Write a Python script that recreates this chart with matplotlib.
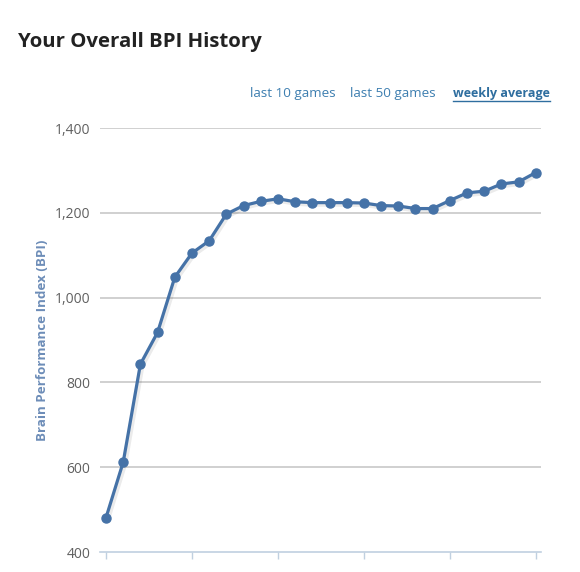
import matplotlib
matplotlib.use("Agg")
import matplotlib.pyplot as plt
import matplotlib.patheffects as pe

# Data
weeks = list(range(26))
bpi = [481, 612, 843, 918, 1048, 1105, 1134, 1197, 1217, 1227, 1233, 1226, 1224,
       1224, 1224, 1223, 1217, 1216, 1210, 1210, 1229, 1247, 1251, 1268, 1273, 1295]
y_ticks = [400, 600, 800, 1000, 1200, 1400]
y_tick_labels = ["400", "600", "800", "1,000", "1,200", "1,400"]
x_ticks = [0, 5, 10, 15, 20, 25]
title = "Your Overall BPI History"
y_label = "Brain Performance Index (BPI)"
links = ["last 10 games", "last 50 games", "weekly average"]

plt.rcParams['font.family'] = ['Open Sans', 'DejaVu Sans']

W, H = 580, 572
fig = plt.figure(figsize=(W / 100, H / 100), dpi=100)
left, right, top, bottom = 100, 541, 128, 552
ax = fig.add_axes([left / W, (H - bottom) / H, (right - left) / W, (bottom - top) / H])

line_color = "#4572A7"
ax.plot(weeks, bpi, color=line_color, lw=2.3, zorder=3,
        path_effects=[pe.SimpleLineShadow(offset=(1, -1), shadow_color="#000000", alpha=0.08, linewidth=4),
                      pe.Normal()])
ax.plot(weeks, bpi, linestyle="none", marker="o", ms=6.5, color=line_color, zorder=4)

ax.set_xlim(-0.35, 25.3)
ax.set_ylim(400, 1400)
ax.set_yticks(y_ticks)
ax.set_yticklabels(y_tick_labels)
ax.set_xticks(x_ticks)
ax.set_xticklabels([])

for v in y_ticks[1:]:
    ax.axhline(v, color="#C8C8C8", lw=1.2, zorder=1)

for s in ["top", "right", "left"]:
    ax.spines[s].set_visible(False)
ax.spines["bottom"].set_color("#C0D0E0")
ax.spines["bottom"].set_linewidth(1.2)

ax.tick_params(axis="y", length=0, pad=7, labelsize=10, labelcolor="#606060")
ax.tick_params(axis="x", length=5, width=1, color="#C0D0E0", direction="out")

ax.set_ylabel(y_label, color="#6D8DB8", fontsize=9.6, fontweight="bold", labelpad=4)

fig.text(18 / W, 1 - 42 / H, title, fontsize=14.7, fontweight="bold", color="#222222",
         ha="left", va="center")

link_color = "#3D7EB0"
fs_link = 9.7
fig.text(250 / W, 1 - 94 / H, links[0], fontsize=fs_link, color=link_color, ha="left", va="center")
fig.text(350 / W, 1 - 94 / H, links[1], fontsize=fs_link, color=link_color, ha="left", va="center")
t = fig.text(550 / W, 1 - 94 / H, links[2], fontsize=9.0, color="#2F6E9F", fontweight="bold",
             ha="right", va="center")
fig.canvas.draw()
bb = t.get_window_extent()
fig.add_artist(plt.Line2D([bb.x0 / W, bb.x1 / W], [(bb.y0 - 0.5) / H, (bb.y0 - 0.5) / H],
                          color="#2F6E9F", lw=1.0, transform=fig.transFigure))

fig.savefig("out.png", dpi=100)
